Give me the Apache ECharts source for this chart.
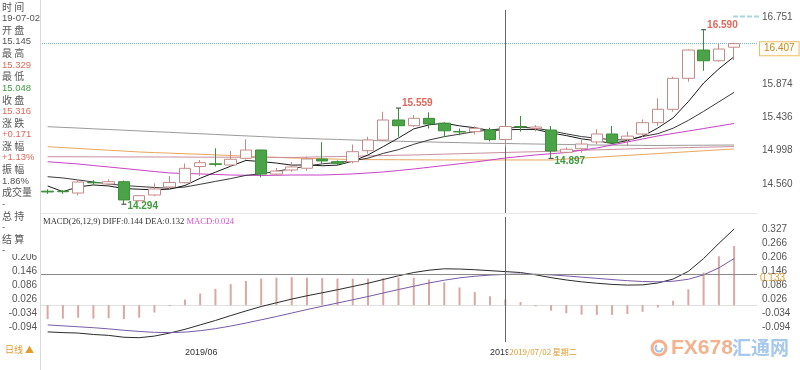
<!DOCTYPE html>
<html><head><meta charset="utf-8">
<script src="https://cdn.jsdelivr.net/npm/echarts@6/dist/echarts.min.js"></script>
<style>html,body{margin:0;padding:0;background:#fff}#c{width:800px;height:370px}</style>
</head><body><div id="c"></div>
<script>
const categories = ['2019-05-21','2019-05-22','2019-05-23','2019-05-24','2019-05-27','2019-05-28','2019-05-29','2019-05-30','2019-05-31','2019-06-03','2019-06-04','2019-06-05','2019-06-06','2019-06-07','2019-06-10','2019-06-11','2019-06-12','2019-06-13','2019-06-14','2019-06-17','2019-06-18','2019-06-19','2019-06-20','2019-06-21','2019-06-24','2019-06-25','2019-06-26','2019-06-27','2019-06-28','2019-07-01','2019-07-02','2019-07-03','2019-07-04','2019-07-05','2019-07-08','2019-07-09','2019-07-10','2019-07-11','2019-07-12','2019-07-15','2019-07-16','2019-07-17','2019-07-18','2019-07-19','2019-07-22','2019-07-23'];
const opens = [14.465,14.465,14.441,14.58,14.56,14.59,14.34,14.415,14.52,14.577,14.79,14.825,14.81,14.898,15.007,14.69,14.744,14.767,14.889,14.854,14.853,14.998,15.139,15.402,15.327,15.424,15.36,15.25,15.248,15.27,15.145,15.316,15.29,15.27,14.977,15.024,15.113,15.218,15.148,15.218,15.367,15.543,15.951,16.323,16.182,16.36];
const closes = [14.455,14.458,14.586,14.575,14.59,14.35,14.406,14.494,14.58,14.766,14.84,14.818,14.885,15.007,14.69,14.73,14.784,14.889,14.863,14.832,14.985,15.139,15.402,15.327,15.424,15.35,15.26,15.245,15.293,15.145,15.316,15.31,15.31,14.994,15.017,15.086,15.218,15.103,15.19,15.367,15.543,15.951,16.323,16.182,16.336,16.407];
const lows = [14.43,14.43,14.41,14.55,14.55,14.294,14.33,14.40,14.49,14.567,14.665,14.79,14.79,14.88,14.648,14.665,14.72,14.735,14.83,14.81,14.83,14.96,15.13,15.182,15.31,15.29,15.18,15.2,15.21,15.12,15.048,15.248,15.25,14.897,14.97,14.97,15.085,15.094,15.06,15.18,15.323,15.511,15.906,16.05,16.169,16.19];
const highs = [14.49,14.48,14.626,14.61,14.62,14.605,14.415,14.569,14.665,14.83,14.876,15.03,14.994,15.148,15.01,14.77,14.85,14.92,15.109,14.87,15.08,15.182,15.511,15.559,15.468,15.503,15.37,15.29,15.32,15.30,15.329,15.455,15.335,15.323,15.04,15.14,15.28,15.323,15.25,15.41,15.688,15.972,16.332,16.59,16.402,16.42];

const ma5 = [14.534,14.459,14.521,14.547,14.534,14.50,14.491,14.482,14.492,14.54,14.635,14.715,14.794,14.87,14.855,14.835,14.808,14.811,14.80,14.808,14.86,14.942,15.052,15.165,15.285,15.338,15.36,15.325,15.30,15.263,15.273,15.278,15.278,15.232,15.197,15.154,15.128,15.094,15.131,15.188,15.297,15.43,15.644,15.888,16.076,16.236];
const ma10 = [14.656,14.639,14.613,14.586,14.56,14.54,14.527,14.514,14.503,14.52,14.556,14.594,14.631,14.673,14.695,14.727,14.762,14.795,14.825,14.842,14.865,14.90,14.963,15.012,15.082,15.139,15.183,15.216,15.249,15.27,15.293,15.308,15.294,15.26,15.22,15.184,15.162,15.142,15.14,15.185,15.222,15.294,15.397,15.516,15.641,15.767];
const ma30 = [14.853,14.838,14.823,14.803,14.784,14.764,14.744,14.724,14.705,14.698,14.692,14.685,14.678,14.675,14.672,14.675,14.678,14.678,14.678,14.685,14.692,14.705,14.718,14.737,14.757,14.78,14.803,14.826,14.849,14.875,14.902,14.922,14.942,14.958,14.974,15.004,15.034,15.074,15.113,15.152,15.192,15.225,15.257,15.29,15.323,15.356];
const ma60 = [14.919,14.918,14.918,14.917,14.917,14.916,14.916,14.915,14.915,14.914,14.913,14.913,14.912,14.911,14.911,14.910,14.909,14.913,14.917,14.921,14.925,14.930,14.934,14.938,14.942,14.947,14.953,14.958,14.964,14.969,14.975,14.980,14.985,14.991,14.997,15.003,15.009,15.015,15.021,15.026,15.030,15.035,15.039,15.044,15.048,15.053];
const ma120 = [15.314,15.305,15.296,15.286,15.277,15.268,15.258,15.249,15.240,15.230,15.221,15.212,15.202,15.193,15.184,15.174,15.165,15.159,15.152,15.146,15.139,15.134,15.128,15.123,15.117,15.113,15.108,15.104,15.099,15.096,15.093,15.089,15.086,15.083,15.08,15.076,15.073,15.072,15.07,15.068,15.067,15.068,15.069,15.07,15.072,15.073];
const ma250 = [15.051,15.039,15.028,15.016,15.004,14.993,14.981,14.973,14.966,14.958,14.951,14.943,14.935,14.927,14.918,14.910,14.902,14.897,14.892,14.887,14.882,14.881,14.880,14.879,14.878,14.877,14.876,14.876,14.876,14.876,14.876,14.876,14.876,14.876,14.888,14.900,14.912,14.924,14.936,14.948,14.960,14.973,14.985,14.997,15.009,15.021];

const macdDiff = [-0.115,-0.118,-0.120,-0.126,-0.130,-0.138,-0.140,-0.133,-0.120,-0.104,-0.085,-0.066,-0.045,-0.025,-0.006,0.010,0.026,0.040,0.053,0.066,0.080,0.094,0.110,0.126,0.140,0.150,0.156,0.155,0.152,0.148,0.144,0.140,0.130,0.118,0.108,0.100,0.094,0.089,0.086,0.087,0.095,0.112,0.145,0.200,0.265,0.327];
const macdDea = [-0.085,-0.089,-0.093,-0.097,-0.102,-0.108,-0.113,-0.117,-0.118,-0.116,-0.110,-0.101,-0.090,-0.077,-0.063,-0.049,-0.034,-0.019,-0.005,0.009,0.023,0.037,0.052,0.067,0.081,0.095,0.107,0.117,0.124,0.129,0.132,0.1334,0.1327,0.1298,0.1254,0.1203,0.1150,0.1098,0.1050,0.1014,0.1001,0.1025,0.111,0.130,0.160,0.200];
const macdHist = [-0.060,-0.058,-0.054,-0.058,-0.056,-0.060,-0.054,-0.032,-0.004,0.024,0.050,0.070,0.090,0.104,0.114,0.118,0.120,0.118,0.116,0.114,0.114,0.114,0.116,0.118,0.118,0.110,0.098,0.076,0.056,0.038,0.024,0.013,-0.005,-0.024,-0.035,-0.041,-0.042,-0.042,-0.038,-0.029,-0.010,0.019,0.068,0.140,0.210,0.254];

const priceTicks = [14.560, 14.998, 15.436, 15.874, 16.312, 16.751];
const macdTicks = [-0.094, -0.034, 0.026, 0.086, 0.146, 0.206, 0.266, 0.327];
const crossIdx = 30;
const crossMacdValue = 0.133;
const highMarks = [23, 43];
const lowMarks = [5, 33];

const RED = '#e0675a', GREEN = '#3f9b3f', ORANGE = '#e39b2e', GRAYTXT = '#555';
const NUMFONT = '"Liberation Sans", Arial, sans-serif';
const CJK = '"Noto Sans CJK SC", "Liberation Sans", sans-serif';

const chart = echarts.init(document.getElementById('c'));
const candleData = categories.map((d, i) => [opens[i], closes[i], lows[i], highs[i]]);

function markPt(idx, isHigh) {
  const v = isHigh ? highs[idx] : lows[idx];
  return {
    coord: [categories[idx], v], value: v.toFixed(3),
    label: { position: isHigh ? [6, -9] : [6, -2], color: isHigh ? RED : GREEN }
  };
}
function maLine(data, color) {
  return { type: 'line', xAxisIndex: 0, yAxisIndex: 0, data, symbol: 'none', smooth: false,
    lineStyle: { color, width: 1 }, silent: true, z: 3 };
}

const cd = categories[crossIdx];
const wk = ['星期日','星期一','星期二','星期三','星期四','星期五','星期六'][new Date(cd + 'T12:00:00').getDay()];
const crossLabel = cd.replace(/-/g, '/') + ' ' + wk;

const o = opens[crossIdx], c = closes[crossIdx], h = highs[crossIdx], l = lows[crossIdx], pc = closes[crossIdx - 1];
const chg = c - pc;
const infoRows = [
  ['时 间', GRAYTXT, CJK], [cd.slice(2), GRAYTXT, NUMFONT],
  ['开 盘', GRAYTXT, CJK], [o.toFixed(3), GRAYTXT, NUMFONT],
  ['最 高', GRAYTXT, CJK], [h.toFixed(3), RED, NUMFONT],
  ['最 低', GRAYTXT, CJK], [l.toFixed(3), GREEN, NUMFONT],
  ['收 盘', GRAYTXT, CJK], [c.toFixed(3), RED, NUMFONT],
  ['涨 跌', GRAYTXT, CJK], [(chg >= 0 ? '+' : '') + chg.toFixed(3), RED, NUMFONT],
  ['涨 幅', GRAYTXT, CJK], [(chg >= 0 ? '+' : '') + (chg / pc * 100).toFixed(2) + '%', RED, NUMFONT],
  ['振 幅', GRAYTXT, CJK], [((h - l) / pc * 100).toFixed(2) + '%', GRAYTXT, NUMFONT],
  ['成交量', GRAYTXT, CJK], ['-', GRAYTXT, NUMFONT],
  ['总 持', GRAYTXT, CJK], ['-', GRAYTXT, NUMFONT],
  ['结 算', GRAYTXT, CJK], ['-', GRAYTXT, NUMFONT]
];

const graphics = [
  { type: 'rect', shape: { x: 0, y: 0, width: 40, height: 254 }, style: { fill: '#fff' }, z: 100 },
  { type: 'line', shape: { x1: 40.5, y1: 0, x2: 40.5, y2: 370 }, style: { stroke: '#d9d9d9', lineWidth: 1 }, z: 101 },
  { type: 'line', shape: { x1: 733, y1: 16.5, x2: 760, y2: 16.5 }, style: { stroke: '#a9d6e3', lineWidth: 2, lineDash: [5, 2] }, z: 101 }
];
infoRows.forEach((r, k) => {
  graphics.push({ type: 'text', z: 102, style: { x: 2, y: 7 + k * 11.6, text: r[0], fill: r[1],
    font: (r[2] === CJK ? '10px ' : '9.5px ') + r[2], verticalAlign: 'middle', textVerticalAlign: 'middle' } });
});
graphics.push({ type: 'text', z: 102, style: { x: 43, y: 222, verticalAlign: 'middle', textVerticalAlign: 'middle',
  text: '{a|MACD(26,12,9) DIFF:' + macdDiff[crossIdx].toFixed(3) + ' DEA:' + macdDea[crossIdx].toFixed(3) + ' }{b|MACD:' + macdHist[crossIdx].toFixed(3) + '}',
  rich: { a: { fill: '#333', font: '8.6px "Liberation Serif", serif' }, b: { fill: '#d24fd2', font: '8.6px "Liberation Serif", serif' } } } });
graphics.push({ type: 'text', z: 102, style: { x: 5, y: 350, text: '日线 ▲', fill: ORANGE, font: '9px ' + CJK, verticalAlign: 'middle', textVerticalAlign: 'middle' } });
// watermark
graphics.push({ type: 'circle', z: 90, shape: { cx: 659, cy: 348, r: 7 }, style: { fill: 'none', stroke: '#f2b28d', lineWidth: 3 } });
graphics.push({ type: 'arc', z: 91, shape: { cx: 659, cy: 348, r: 3.5, startAngle: 0, endAngle: Math.PI * 1.3 }, style: { fill: 'none', stroke: '#9dc3e8', lineWidth: 2 } });
graphics.push({ type: 'text', z: 90, style: { x: 671, y: 348, text: 'FX678', fill: '#f2b28d', font: 'bold 21px "Liberation Sans", sans-serif', verticalAlign: 'middle', textVerticalAlign: 'middle' } });
graphics.push({ type: 'text', z: 90, style: { x: 732, y: 348, text: '汇通网', fill: '#a6c8ea', font: 'bold 19px "Noto Sans CJK SC", sans-serif', verticalAlign: 'middle', textVerticalAlign: 'middle' } });

const crossLineStyle = { color: '#666', width: 1, type: 'solid' };

const option = {
  animation: false,
  backgroundColor: '#fff',
  grid: [
    { left: 40, right: 43, top: 10, height: 203 },
    { left: 40, right: 43, top: 217, height: 125 }
  ],
  xAxis: [
    { type: 'category', gridIndex: 0, data: categories, max: categories.length, boundaryGap: true,
      axisLabel: { show: false }, axisTick: { show: false }, axisLine: { lineStyle: { color: '#e6e6e6' } }, splitLine: { show: false } },
    { type: 'category', gridIndex: 1, data: categories, max: categories.length, boundaryGap: true,
      axisTick: { show: false }, axisLine: { lineStyle: { color: '#e0e0e0' } }, splitLine: { show: false },
      axisLabel: { color: '#333', fontSize: 9, fontFamily: NUMFONT, margin: 6, align: 'left',
        interval: (i, v) => !!v && i > 0 && !!categories[i - 1] && v.slice(5, 7) !== categories[i - 1].slice(5, 7),
        formatter: v => v ? v.slice(0, 4) + '/' + v.slice(5, 7) : '' } }
  ],
  yAxis: [
    { type: 'value', gridIndex: 0, position: 'right', min: 14.178, max: 16.85, scale: true,
      splitLine: { show: false }, axisLine: { show: false }, axisTick: { show: false },
      axisLabel: { customValues: priceTicks, formatter: v => v.toFixed(3), color: GRAYTXT, fontSize: 10, fontFamily: NUMFONT, margin: 5 } },
    { type: 'value', gridIndex: 1, position: 'right', min: -0.1584, max: 0.3785,
      splitLine: { show: false }, axisLine: { show: false }, axisTick: { show: false },
      axisLabel: { customValues: macdTicks, formatter: v => v.toFixed(3), color: GRAYTXT, fontSize: 10, fontFamily: NUMFONT, margin: 5 } },
    { type: 'value', gridIndex: 1, position: 'left', min: -0.1584, max: 0.3785,
      splitLine: { show: false }, axisLine: { show: false }, axisTick: { show: false },
      axisLabel: { customValues: macdTicks, formatter: v => v.toFixed(3), color: GRAYTXT, fontSize: 10, fontFamily: NUMFONT, margin: 3 } }
  ],
  series: [
    maLine(ma250, '#e9a55d'),
    maLine(ma120, '#9a9a9a'),
    maLine(ma60, '#c98e9e'),
    maLine(ma30, '#c743c7'),
    maLine(ma10, '#3a3a3a'),
    maLine(ma5, '#1a1a1a'),
    { type: 'candlestick', xAxisIndex: 0, yAxisIndex: 0, data: candleData, barWidth: 12, z: 5,
      itemStyle: { color: '#ffffff', color0: '#4aa346', borderColor: '#c38b88', borderColor0: '#3b8f38', borderWidth: 1 },
      markPoint: { symbol: 'rect', symbolSize: [5, 1], itemStyle: { color: '#333' },
        label: { fontSize: 10, fontFamily: NUMFONT, fontWeight: 'bold' },
        data: highMarks.map(i => markPt(i, true)).concat(lowMarks.map(i => markPt(i, false))) },
      markLine: { symbol: ['none', 'none'], silent: true, animation: false, precision: 3,
        data: [
          { yAxis: closes[closes.length - 1], lineStyle: { color: '#79b9c6', type: 'dotted', width: 1 },
            label: { show: true, position: 'end', distance: 3, formatter: p => Number(p.value).toFixed(3), color: '#c48a22',
              fontSize: 10, fontFamily: NUMFONT, backgroundColor: '#fffdf5', borderColor: '#efbd6a', borderWidth: 1,
              padding: [2, 4, 1, 4], offset: [0, 5] } },
          { xAxis: cd, lineStyle: crossLineStyle, label: { show: false } }
        ] } },
    { type: 'bar', xAxisIndex: 1, yAxisIndex: 1, data: macdHist, barWidth: 2, itemStyle: { color: '#d8a9a4' }, z: 2,
      markLine: { symbol: ['none', 'none'], silent: true, animation: false, precision: 3,
        data: [
          { yAxis: crossMacdValue, lineStyle: { color: '#8a8a8a', width: 1, type: 'solid' },
            label: { show: true, position: 'end', distance: 3, formatter: crossMacdValue.toFixed(3), color: ORANGE, fontSize: 10, fontFamily: NUMFONT, offset: [0, 4] } },
          { xAxis: cd, lineStyle: crossLineStyle,
            label: { show: true, position: 'start', formatter: crossLabel, color: ORANGE, fontSize: 8, fontFamily: CJK,
              backgroundColor: '#fff', padding: [1, 1], align: 'left', offset: [3, 0] } }
        ] } },
    { type: 'line', xAxisIndex: 1, yAxisIndex: 1, data: macdDiff, symbol: 'none', lineStyle: { color: '#2b2b2b', width: 1 }, z: 3 },
    { type: 'line', xAxisIndex: 1, yAxisIndex: 1, data: macdDea, symbol: 'none', lineStyle: { color: '#7a5aa8', width: 1 }, z: 3 }
  ],
  graphic: graphics
};
chart.setOption(option);
</script>
</body></html>
